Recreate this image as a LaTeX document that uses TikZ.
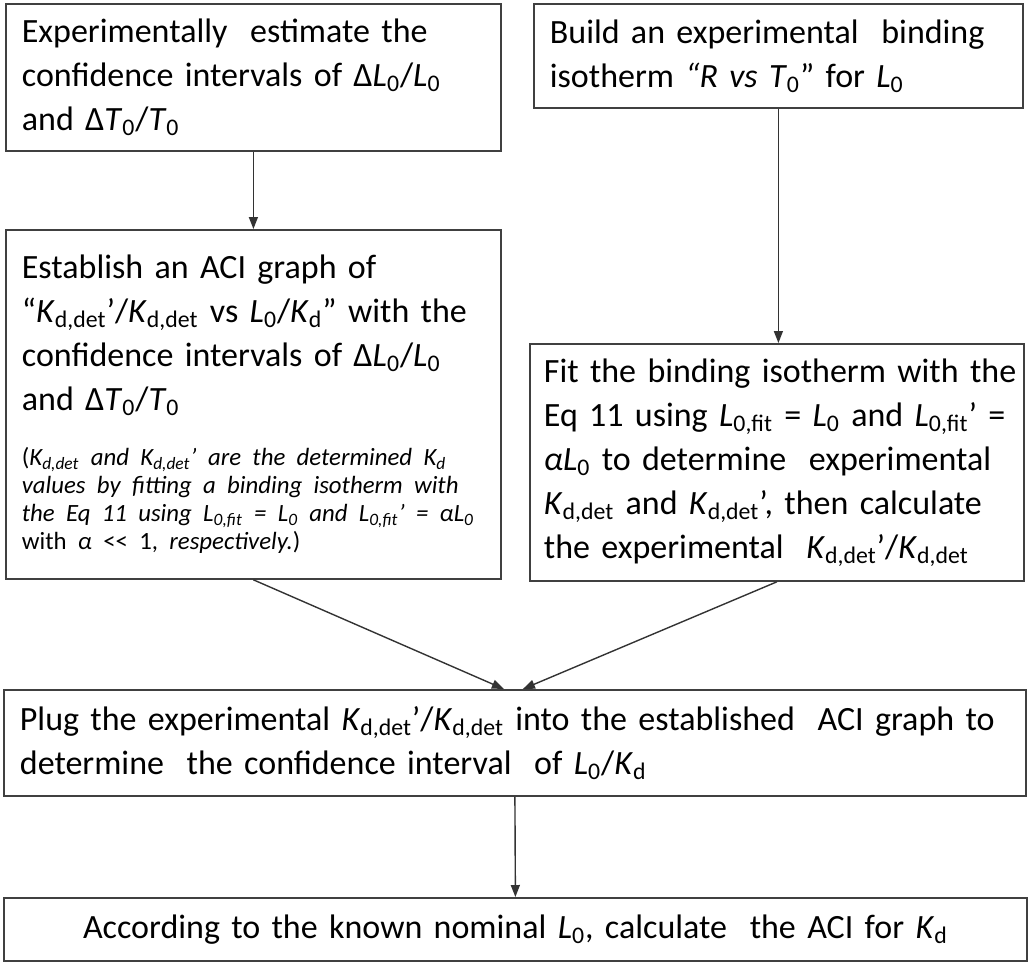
\documentclass[tikz,border=0pt]{standalone}
\usepackage{fontspec}
\setmainfont{Carlito}
\usetikzlibrary{arrows.meta}

\newcommand{\Lo}{\textit{L}\textsubscript{0}}
\newcommand{\To}{\textit{T}\textsubscript{0}}
\newcommand{\Kd}{\textit{K}\textsubscript{d}}
\newcommand{\Kdet}{\textit{K}\textsubscript{d,det}}
\newcommand{\Lfit}{\textit{L}\textsubscript{0,fit}}

\begin{document}
\begin{tikzpicture}[
  x=0.5pt, y=-0.5pt,
  font=\fontsize{17}{22}\selectfont,
  box/.style={draw=black!75, line width=0.9pt, rectangle, anchor=north west,
    inner xsep=8pt, inner ysep=0pt, align=left},
  arrow/.style={-{Triangle[length=6pt, width=4.5pt]}, draw=black!80, line width=0.7pt}]

  \useasboundingbox (0,0) rectangle (1028,965);

  % Top row
  \node[box, text width=231.5pt, minimum height=73.5pt] (estimate) at (5,3)
    {Experimentally~ estimate the\\
     confidence intervals of Δ\Lo/\Lo\\
     and Δ\To/\To};
  \node[box, text width=228.5pt, minimum height=52pt] (isotherm) at (533,3)
    {Build an experimental~ binding\\
     isotherm \textit{“R vs }\To” for \Lo};

  % Middle row
  \node[box, text width=231.5pt, minimum height=174.5pt] (graph) at (5,229)
    {Establish an ACI graph of\\
     “\Kdet’/\Kdet{} vs \Lo/\Kd” with the\\
     confidence intervals of Δ\Lo/\Lo\\
     and Δ\To/\To\par\vspace{13.5pt}
     {\fontsize{12.4}{14}\selectfont
      \mbox{(\textit{\Kdet{} and \Kdet’ are the determined \Kd}}\\
      \mbox{\textit{values by fitting a binding isotherm with}}\\
      \mbox{\textit{the Eq 11 using \Lfit{} = \Lo{} and \Lfit’ = αL\textsubscript{0}}}\\
      \mbox{with \textit{α} {<}{<} 1, \textit{respectively.})}\par}\vspace{6.5pt}};
  \node[box, inner xsep=7pt, text width=233pt, minimum height=118.5pt] (fit) at (529,343)
    {\mbox{Fit the binding isotherm with the}\\
     Eq 11 using \Lfit{} = \Lo{} and \Lfit’ =\\
     \textit{α}\Lo{} to determine~ experimental\\
     \Kdet{} and \Kdet’, then calculate\\
     the experimental~ \Kdet’/\Kdet};

  % Bottom rows
  \node[box, text width=495pt, minimum height=53pt] (plug) at (3,689)
    {Plug the experimental \Kdet’/\Kdet{} into the established~ ACI graph to\\
     determine~ the confidence interval~ of \Lo/\Kd};
  \node[box, text width=495.5pt, minimum height=31.5pt, align=center] (aci) at (3,897)
    {According to the known nominal \Lo, calculate~ the ACI for \Kd};

  % Connectors
  \draw[arrow] (estimate.south) -- (graph.north);
  \draw[arrow] (isotherm.south) -- (isotherm.south |- fit.north);
  \draw[arrow] (graph.south) -- ([xshift=-5.5pt]plug.north);
  \draw[arrow] (fit.south) -- ([xshift=4pt]plug.north);
  \draw[arrow] (plug.south) -- (aci.north);

\end{tikzpicture}
\end{document}
